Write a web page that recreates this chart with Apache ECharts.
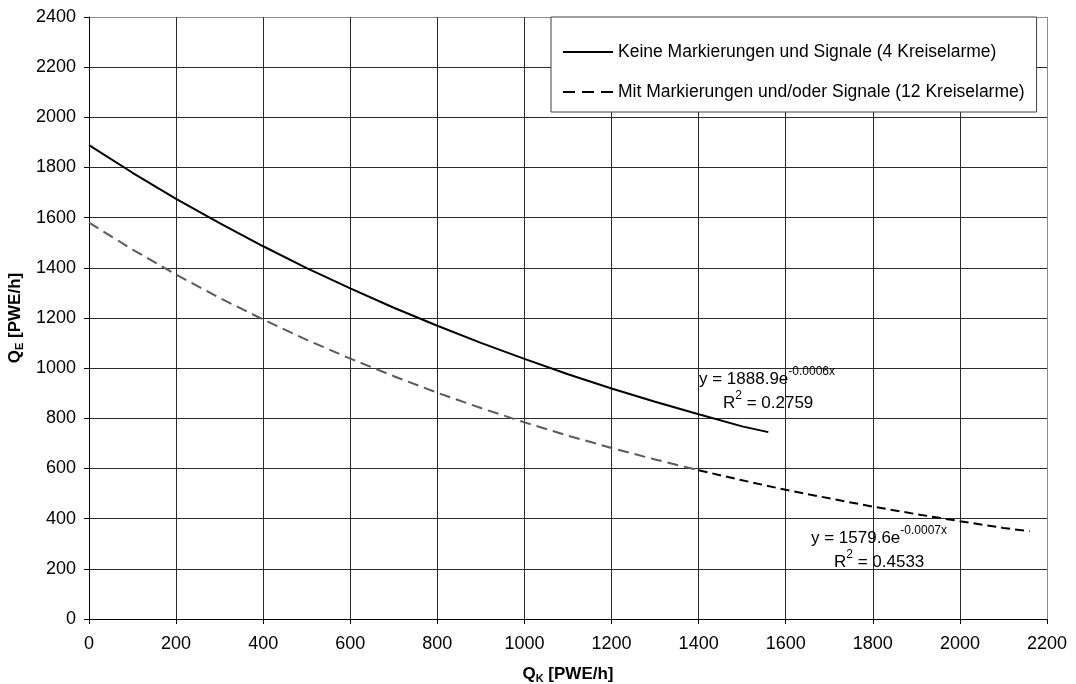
<!DOCTYPE html>
<html>
<head>
<meta charset="utf-8">
<script src="https://cdn.jsdelivr.net/npm/echarts@6/dist/echarts.min.js"></script>
<style>html,body{margin:0;padding:0;background:#fff;}#c{width:1076px;height:684px;}</style>
</head>
<body>
<div id="c"></div>
<script>
// ---- data ----
const xTicks = [0, 200, 400, 600, 800, 1000, 1200, 1400, 1600, 1800, 2000, 2200];
const yTicks = [0, 200, 400, 600, 800, 1000, 1200, 1400, 1600, 1800, 2000, 2200, 2400];

const solidName = 'Keine Markierungen und Signale (4 Kreiselarme)';
const solidX = [0, 100, 200, 300, 400, 500, 600, 700, 800, 900, 1000, 1100, 1200, 1300, 1400, 1500, 1560];
const solidY = [1889, 1779, 1675, 1578, 1486, 1399, 1318, 1241, 1169, 1101, 1037, 976, 919, 866, 816, 768, 745];

const dashName = 'Mit Markierungen und/oder Signale (12 Kreiselarme)';
const dashX = [0, 100, 200, 300, 400, 500, 600, 700, 800, 900, 1000, 1100, 1200, 1300, 1400, 1500, 1600, 1700, 1800, 1900, 2000, 2100, 2160];
const dashY = [1580, 1473, 1373, 1280, 1194, 1113, 1038, 968, 902, 841, 784, 731, 682, 636, 593, 553, 515, 481, 448, 418, 390, 363, 350];

const eq1 = ['y = 1888.9e', '-0.0006x', '0.2759'];
const eq2 = ['y = 1579.6e', '-0.0007x', '0.4533'];

const FONT = '"Liberation Sans", Arial, sans-serif';

function pairs(xs, ys, from, to) {
  const out = [];
  for (let i = 0; i < xs.length; i++) {
    if (xs[i] >= from && xs[i] <= to) out.push([xs[i], ys[i]]);
  }
  return out;
}

const chart = echarts.init(document.getElementById('c'), null, {renderer: 'canvas'});

function yColors() { const a = yTicks.map(() => '#2a2a2a'); a[a.length - 1] = '#8a8a8a'; return a; }
function xColors() { const a = xTicks.map(() => '#2a2a2a'); a[a.length - 1] = '#8a8a8a'; return a; }

const titleRich = {
  q: {fontFamily: FONT, fontSize: 17, fontWeight: 'bold', color: '#000', lineHeight: 20, verticalAlign: 'middle'},
  s: {fontFamily: FONT, fontSize: 11, fontWeight: 'bold', color: '#000', lineHeight: 20, verticalAlign: 'bottom'}
};

const eqRich = {
  a: {fontFamily: FONT, fontSize: 17, color: '#000', lineHeight: 22, verticalAlign: 'bottom'},
  s: {fontFamily: FONT, fontSize: 12, color: '#000', lineHeight: 13, verticalAlign: 'top'}
};

const option = {
  backgroundColor: '#fff',
  animation: false,
  grid: {left: 89, right: 29, top: 17, bottom: 65, containLabel: false, outerBoundsMode: 'none'},
  legend: {
    show: true,
    orient: 'vertical',
    left: 551,
    top: 17,
    padding: [26, 12, 11, 11],
    itemGap: 22,
    itemWidth: 50,
    itemHeight: 20,
    borderColor: '#404040',
    borderWidth: 1,
    backgroundColor: '#fff',
    itemStyle: {opacity: 0},
    data: [
      {name: solidName},
      {name: dashName, lineStyle: {type: [12, 7]}}
    ],
    textStyle: {fontFamily: FONT, fontSize: 17.5, color: '#000'}
  },
  xAxis: {
    type: 'value', min: xTicks[0], max: xTicks[xTicks.length - 1], interval: 200,
    name: '{q|Q}{s|K}{q| [PWE/h]}', nameLocation: 'middle', nameGap: 45,
    nameTextStyle: {rich: titleRich},
    axisLine: {show: true, lineStyle: {color: '#000', width: 1}},
    axisTick: {show: true, inside: false, length: 5, lineStyle: {color: '#000'}},
    axisLabel: {fontFamily: FONT, fontSize: 18, color: '#000', margin: 16, formatter: v => String(v)},
    splitLine: {show: true, lineStyle: {color: xColors(), width: 1}}
  },
  yAxis: {
    type: 'value', min: yTicks[0], max: yTicks[yTicks.length - 1], interval: 200,
    name: '{q|Q}{s|E}{q| [PWE/h]}', nameLocation: 'middle', nameGap: 63, nameRotate: 90,
    nameTextStyle: {rich: titleRich},
    axisLine: {show: true, lineStyle: {color: '#000', width: 1}},
    axisTick: {show: true, inside: false, length: 5, lineStyle: {color: '#000'}},
    axisLabel: {fontFamily: FONT, fontSize: 18, color: '#000', margin: 13, formatter: v => String(v)},
    splitLine: {show: true, lineStyle: {color: yColors(), width: 1}}
  },
  series: [
    {
      name: solidName, type: 'line', symbol: 'none', smooth: false, z: 4,
      data: pairs(solidX, solidY, 0, 99999),
      lineStyle: {color: '#000', width: 2, type: 'solid'},
      itemStyle: {color: '#000'}
    },
    {
      name: '_dashGray', type: 'line', symbol: 'none', z: 3,
      data: pairs(dashX, dashY, 0, 1400),
      lineStyle: {color: '#5a5a5a', width: 2, type: [11, 6]},
      itemStyle: {color: '#5a5a5a'}
    },
    {
      name: dashName, type: 'line', symbol: 'none', z: 3,
      data: pairs(dashX, dashY, 1400, 99999),
      lineStyle: {color: '#000', width: 2, type: [9, 5]},
      itemStyle: {color: '#000'}
    }
  ],
  graphic: [
    {type: 'text', left: 699, top: 366, z: 10, style: {text: '{a|' + eq1[0] + '}{s|' + eq1[1] + '}', rich: eqRich}},
    {type: 'text', left: 723, top: 390, z: 10, style: {text: '{a|R}{s|2}{a| = ' + eq1[2] + '}', rich: eqRich}},
    {type: 'text', left: 811, top: 525, z: 10, style: {text: '{a|' + eq2[0] + '}{s|' + eq2[1] + '}', rich: eqRich}},
    {type: 'text', left: 834, top: 549, z: 10, style: {text: '{a|R}{s|2}{a| = ' + eq2[2] + '}', rich: eqRich}}
  ]
};
chart.setOption(option);
</script>
</body>
</html>
